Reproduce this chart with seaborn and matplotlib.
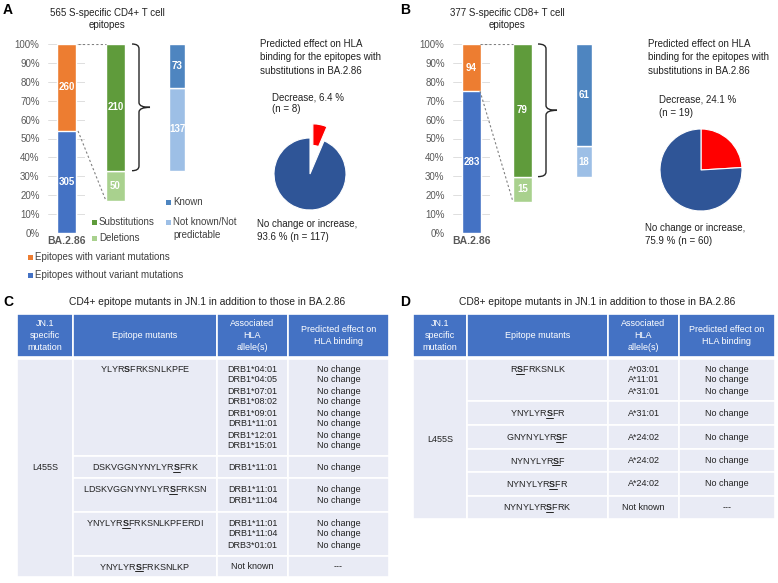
import numpy as np
import pandas as pd
import matplotlib
matplotlib.use("Agg")
import matplotlib.pyplot as plt
import seaborn as sns
from matplotlib.patches import Rectangle, PathPatch
from matplotlib.path import Path

# --- dados dos gráficos de barras (A = CD4+, B = CD8+) ---
panel_letters = ["A", "B"]
panel_titles = [["565 S-specific CD4+ T cell", "epitopes"],
                ["377 S-specific CD8+ T cell", "epitopes"]]
variant = ["BA.2.86"]
without_mut = [305, 283]
with_mut = [260, 94]
substitutions = [210, 79]
deletions = [50, 15]
known = [73, 61]
not_known = [137, 18]
pie_decrease = [8, 19]
pie_nochange = [117, 60]

# --- dados das tabelas (C = CD4+, D = CD8+) ---
header = [["JN.1", "specific", "mutation"], ["Epitope mutants"],
          ["Associated", "HLA", "allele(s)"], ["Predicted effect on", "HLA binding"]]
mutation = "L455S"
cd4_epitopes = [("YLYR", "S", "FRKSNLKPFE", False),
                ("DSKVGGNYNYLYR", "S", "FRK", True),
                ("LDSKVGGNYNYLYR", "S", "FRKSN", True),
                ("YNYLYR", "S", "FRKSNLKPFERDI", True),
                ("YNYLYR", "S", "FRKSNLKP", True)]
cd4_alleles = [["DRB1*04:01", "DRB1*04:05", "DRB1*07:01", "DRB1*08:02",
                "DRB1*09:01", "DRB1*11:01", "DRB1*12:01", "DRB1*15:01"],
               ["DRB1*11:01"],
               ["DRB1*11:01", "DRB1*11:04"],
               ["DRB1*11:01", "DRB1*11:04", "DRB3*01:01"],
               ["Not known"]]
cd4_effect = [["No change"] * 8, ["No change"], ["No change"] * 2,
              ["No change"] * 3, ["---"]]
cd8_epitopes = [("R", "S", "FRKSNLK", True),
                ("YNYLYR", "S", "FR", True),
                ("GNYNYLYR", "S", "F", True),
                ("NYNYLYR", "S", "F", True),
                ("NYNYLYR", "S", "FR", True),
                ("NYNYLYR", "S", "FRK", True)]
cd8_alleles = [["A*03:01", "A*11:01", "A*31:01"], ["A*31:01"], ["A*24:02"],
               ["A*24:02"], ["A*24:02"], ["Not known"]]
cd8_effect = [["No change"] * 3, ["No change"], ["No change"], ["No change"],
              ["No change"], ["---"]]

# cores
c_orange = "#ed7d31"
c_blue = "#4472c4"
c_green = "#5f9b3b"
c_lgreen = "#a9d18e"
c_known = "#4e85c0"
c_unknown = "#9dbfe6"
c_pie_blue = "#2f5597"
c_red = "#ff0000"
c_head = "#4472c4"
c_body = "#e9ebf5"
c_txt = "#222222"
c_axis = "#595959"

sns.set_theme(style="white")
plt.rcParams["font.family"] = ["Liberation Sans", "DejaVu Sans"]
# o S em negrito é feito com mathtext, para manter o espaçamento correto
plt.rcParams["mathtext.fontset"] = "custom"
plt.rcParams["mathtext.rm"] = "Liberation Sans"
plt.rcParams["mathtext.bf"] = "Liberation Sans:bold"

W, H = 778, 583
fig = plt.figure(figsize=(W / 100, H / 100), dpi=100)
ov = fig.add_axes([0, 0, 1, 1])
ov.set_xlim(0, W)
ov.set_ylim(H, 0)
ov.axis("off")


def px_axes(x0, y0, x1, y1):
    return fig.add_axes([x0 / W, 1 - y1 / H, (x1 - x0) / W, (y1 - y0) / H])


def lines_text(x, y, lines, dy, **kw):
    for i, s in enumerate(lines):
        ov.text(x, y + i * dy, s, **kw)


def square(x, y, color):
    ov.add_patch(Rectangle((x, y - 2.5), 5, 5, color=color, lw=0))


# posições (pixels) de cada painel
lay = [dict(main=(48, 85), sub_x=48, bar2=115.5, bar3=177, b1_right=78, brace=(132, 139, 150),
            gbot=0.17, title_x=107, letter_x=3, pie=(310, 174, 36), explode=0.4, ptx=260,
            dec_x=272, dec_y=97, noc_x=257, noc_y=224),
       dict(main=(453, 490), sub_x=453, bar2=522.5, bar3=584, b1_right=480, brace=(538, 546, 557),
            gbot=0.165, title_x=507, letter_x=400, pie=(701, 170, 41), explode=0.0, ptx=648,
            dec_x=659, dec_y=100, noc_x=645, noc_y=228)]

for i in range(2):
    L = lay[i]
    total = without_mut[i] + with_mut[i]
    f_without = without_mut[i] / total

    # barra empilhada principal (seaborn)
    ax = px_axes(L["main"][0], 44, L["main"][1], 233)
    df = pd.DataFrame({"variant": variant, "total": [1.0], "without": [f_without]})
    sns.barplot(data=df, x="variant", y="total", color=c_orange, width=0.54,
                saturation=1, errorbar=None, ax=ax)
    sns.barplot(data=df, x="variant", y="without", color=c_blue, width=0.54,
                saturation=1, errorbar=None, ax=ax)
    ax.set_ylim(0, 1)
    ax.set_yticks(np.linspace(0, 1, 11))
    ax.set_yticklabels([f"{v}%" for v in range(0, 101, 10)])
    ax.yaxis.grid(True, color="#d9d9d9", lw=0.6)
    ax.set_axisbelow(True)
    for s in ax.spines.values():
        s.set_visible(False)
    ax.tick_params(axis="y", length=0, pad=6, labelsize=7, labelcolor=c_axis)
    ax.tick_params(axis="x", length=0, pad=2, labelsize=7.5, labelcolor=c_axis)
    for t in ax.get_xticklabels():
        t.set_fontweight("bold")
    ax.set_xlabel("")
    ax.set_ylabel("")
    ax.text(0, f_without / 2, str(without_mut[i]), color="white", fontsize=7,
            fontweight="bold", ha="center", va="center")
    ax.text(0, f_without + (1 - f_without) / 2, str(with_mut[i]), color="white",
            fontsize=7, fontweight="bold", ha="center", va="center")

    # barras de detalhamento
    sub = px_axes(L["sub_x"], 44, L["sub_x"] + 152, 233)
    sub.set_xlim(L["sub_x"], L["sub_x"] + 152)
    sub.set_ylim(0, 1)
    sub.axis("off")
    g0 = L["gbot"]
    span = 1 - g0
    h_del = deletions[i] / with_mut[i] * span
    h_sub = substitutions[i] / with_mut[i] * span
    sub.bar(L["bar2"], h_del, bottom=g0, width=19, color=c_lgreen)
    sub.bar(L["bar2"], h_sub, bottom=g0 + h_del, width=19, color=c_green)
    sub.text(L["bar2"], g0 + h_del / 2, str(deletions[i]), color="white", fontsize=7,
             fontweight="bold", ha="center", va="center")
    sub.text(L["bar2"], g0 + h_del + h_sub / 2, str(substitutions[i]), color="white",
             fontsize=7, fontweight="bold", ha="center", va="center")
    k0 = g0 + h_del
    h_unk = not_known[i] / substitutions[i] * h_sub
    h_kn = known[i] / substitutions[i] * h_sub
    sub.bar(L["bar3"], h_unk, bottom=k0, width=16, color=c_unknown)
    sub.bar(L["bar3"], h_kn, bottom=k0 + h_unk, width=16, color=c_known)
    sub.text(L["bar3"], k0 + h_unk / 2, str(not_known[i]), color="white", fontsize=7,
             fontweight="bold", ha="center", va="center")
    sub.text(L["bar3"], k0 + h_unk + h_kn / 2, str(known[i]), color="white", fontsize=7,
             fontweight="bold", ha="center", va="center")

    # linhas pontilhadas
    x_left = L["bar2"] - 9.5
    sub.plot([L["b1_right"], x_left], [1, 1], color="#808080", lw=0.8, ls=(0, (2, 2)))
    sub.plot([L["b1_right"], x_left], [f_without, g0], color="#808080", lw=0.8, ls=(0, (2, 2)))

    # chave
    x0, x1, tip = L["brace"]
    yt, yb = 1.0, k0
    ym = (yt + yb) / 2
    d = 0.025
    verts = [(x0, yt), (x1, yt), (x1, yt - d), (x1, ym + d), (x1, ym), (tip, ym),
             (x1, ym), (x1, ym - d), (x1, yb + d), (x1, yb), (x0, yb)]
    codes = [Path.MOVETO, Path.CURVE3, Path.CURVE3, Path.LINETO, Path.CURVE3, Path.CURVE3,
             Path.CURVE3, Path.CURVE3, Path.LINETO, Path.CURVE3, Path.CURVE3]
    sub.add_patch(PathPatch(Path(verts, codes), fc="none", ec="#262626", lw=1, clip_on=False))

    # títulos
    ov.text(L["letter_x"], 10, panel_letters[i], fontsize=10, fontweight="bold",
            ha="left", va="center", color="black")
    lines_text(L["title_x"], 13, panel_titles[i], 12, fontsize=7, ha="center",
               va="center", color=c_txt)

    # pizza
    cx, cy, r = L["pie"]
    pax = px_axes(cx - r, cy - r, cx + r, cy + r)
    wedges, _ = pax.pie([pie_decrease[i], pie_nochange[i]], colors=[c_red, c_pie_blue],
                        startangle=90, counterclock=False, explode=[L["explode"], 0],
                        wedgeprops=dict(edgecolor="white", linewidth=0.8))
    if L["explode"] > 0:
        wedges[0].set_width(0.6)
    for w in wedges:
        w.set_clip_on(False)
    pax.set_xlim(-1, 1)
    pax.set_ylim(-1, 1)
    ntot = pie_decrease[i] + pie_nochange[i]
    p_dec = pie_decrease[i] / ntot * 100
    p_noc = pie_nochange[i] / ntot * 100
    lines_text(L["ptx"], 44, ["Predicted effect on HLA", "binding for the epitopes with",
                              "substitutions in BA.2.86"], 13.3,
               fontsize=7, ha="left", va="center", color=c_txt)
    lines_text(L["dec_x"], L["dec_y"], [f"Decrease, {p_dec:.1f} %", f"(n = {pie_decrease[i]})"],
               12.5, fontsize=7, ha="left", va="center", color=c_txt)
    lines_text(L["noc_x"], L["noc_y"], ["No change or increase,",
                                        f"{p_noc:.1f} % (n = {pie_nochange[i]})"],
               13.5, fontsize=7, ha="left", va="center", color=c_txt)

# legendas (painel A)
leg_txt = dict(fontsize=7, ha="left", va="center", color="#404040")
square(166, 202, c_known)
ov.text(173, 202, "Known", **leg_txt)
square(166, 222, c_unknown)
lines_text(173, 222, ["Not known/Not", "predictable"], 12.5, **leg_txt)
square(92, 222, c_green)
ov.text(99, 222, "Substitutions", **leg_txt)
square(92, 238, c_lgreen)
ov.text(99, 238, "Deletions", **leg_txt)
square(28, 257, c_orange)
ov.text(35, 257, "Epitopes with variant mutations", **leg_txt)
square(28, 275, c_blue)
ov.text(35, 275, "Epitopes without variant mutations", **leg_txt)

# --- tabelas ---
renderer = fig.canvas.get_renderer()
LH = 11  # altura da linha
FS = 6.5


def text_width(s):
    t = ov.text(0, 0, s, fontsize=FS, ha="left", va="center")
    w = t.get_window_extent(renderer).width
    t.remove()
    return w


def epitope_text(cx, y, pre, mid, post, underline):
    bold = r"$\mathbf{" + mid + "}$"
    ov.text(cx, y, pre + bold + post, fontsize=FS, ha="center", va="center", color=c_txt)
    if underline:
        w_full = text_width(pre + bold + post)
        w_a = text_width(pre + bold)
        w_s = text_width(bold)
        xs = cx - w_full / 2 + w_a - w_s
        ov.plot([xs, xs + w_s], [y + 4.6, y + 4.6], color=c_txt, lw=0.7)


def draw_table(letter, title, xe, letter_x, title_x, row_h, epis, alleles, effects):
    ov.text(letter_x, 302, letter, fontsize=10, fontweight="bold", ha="left",
            va="center", color="black")
    ov.text(title_x, 302, title, fontsize=7.4, ha="center", va="center", color=c_txt)
    ht, hb = 314, 357
    for j in range(4):
        ov.add_patch(Rectangle((xe[j], ht), xe[j + 1] - xe[j], hb - ht, fc=c_head,
                               ec="white", lw=1.2))
        lines = header[j]
        yc = (ht + hb) / 2 - (len(lines) - 1) * 11.5 / 2
        lines_text((xe[j] + xe[j + 1]) / 2, yc, lines, 11.5, fontsize=FS, ha="center",
                   va="center", color="white")
    y = 359
    top = y
    for k in range(len(epis)):
        h = row_h[k]
        for j in range(1, 4):
            ov.add_patch(Rectangle((xe[j], y), xe[j + 1] - xe[j], h, fc=c_body,
                                   ec="white", lw=1.2))
        n = len(alleles[k])
        yc = y + h / 2
        y_first = yc - (n - 1) * LH / 2
        epitope_text((xe[1] + xe[2]) / 2, y_first, *epis[k])
        lines_text((xe[2] + xe[3]) / 2, y_first, alleles[k], LH, fontsize=FS,
                   ha="center", va="center", color=c_txt)
        lines_text((xe[3] + xe[4]) / 2, y_first, effects[k], LH, fontsize=FS,
                   ha="center", va="center", color=c_txt)
        y += h
    ov.add_patch(Rectangle((xe[0], top), xe[1] - xe[0], y - top, fc=c_body,
                           ec="white", lw=1.2, zorder=0.5))
    ov.text((xe[0] + xe[1]) / 2, (top + y) / 2, mutation, fontsize=FS, ha="center",
            va="center", color=c_txt)


draw_table("C", "CD4+ epitope mutants in JN.1 in addition to those in BA.2.86",
           [17, 73, 217, 288, 389], 3, 207, [97, 22, 34, 44, 21],
           cd4_epitopes, cd4_alleles, cd4_effect)
draw_table("D", "CD8+ epitope mutants in JN.1 in addition to those in BA.2.86",
           [413, 467, 608, 679, 775], 400, 597, [42, 24, 24, 23, 24, 23],
           cd8_epitopes, cd8_alleles, cd8_effect)

fig.savefig("out.png", dpi=100)
